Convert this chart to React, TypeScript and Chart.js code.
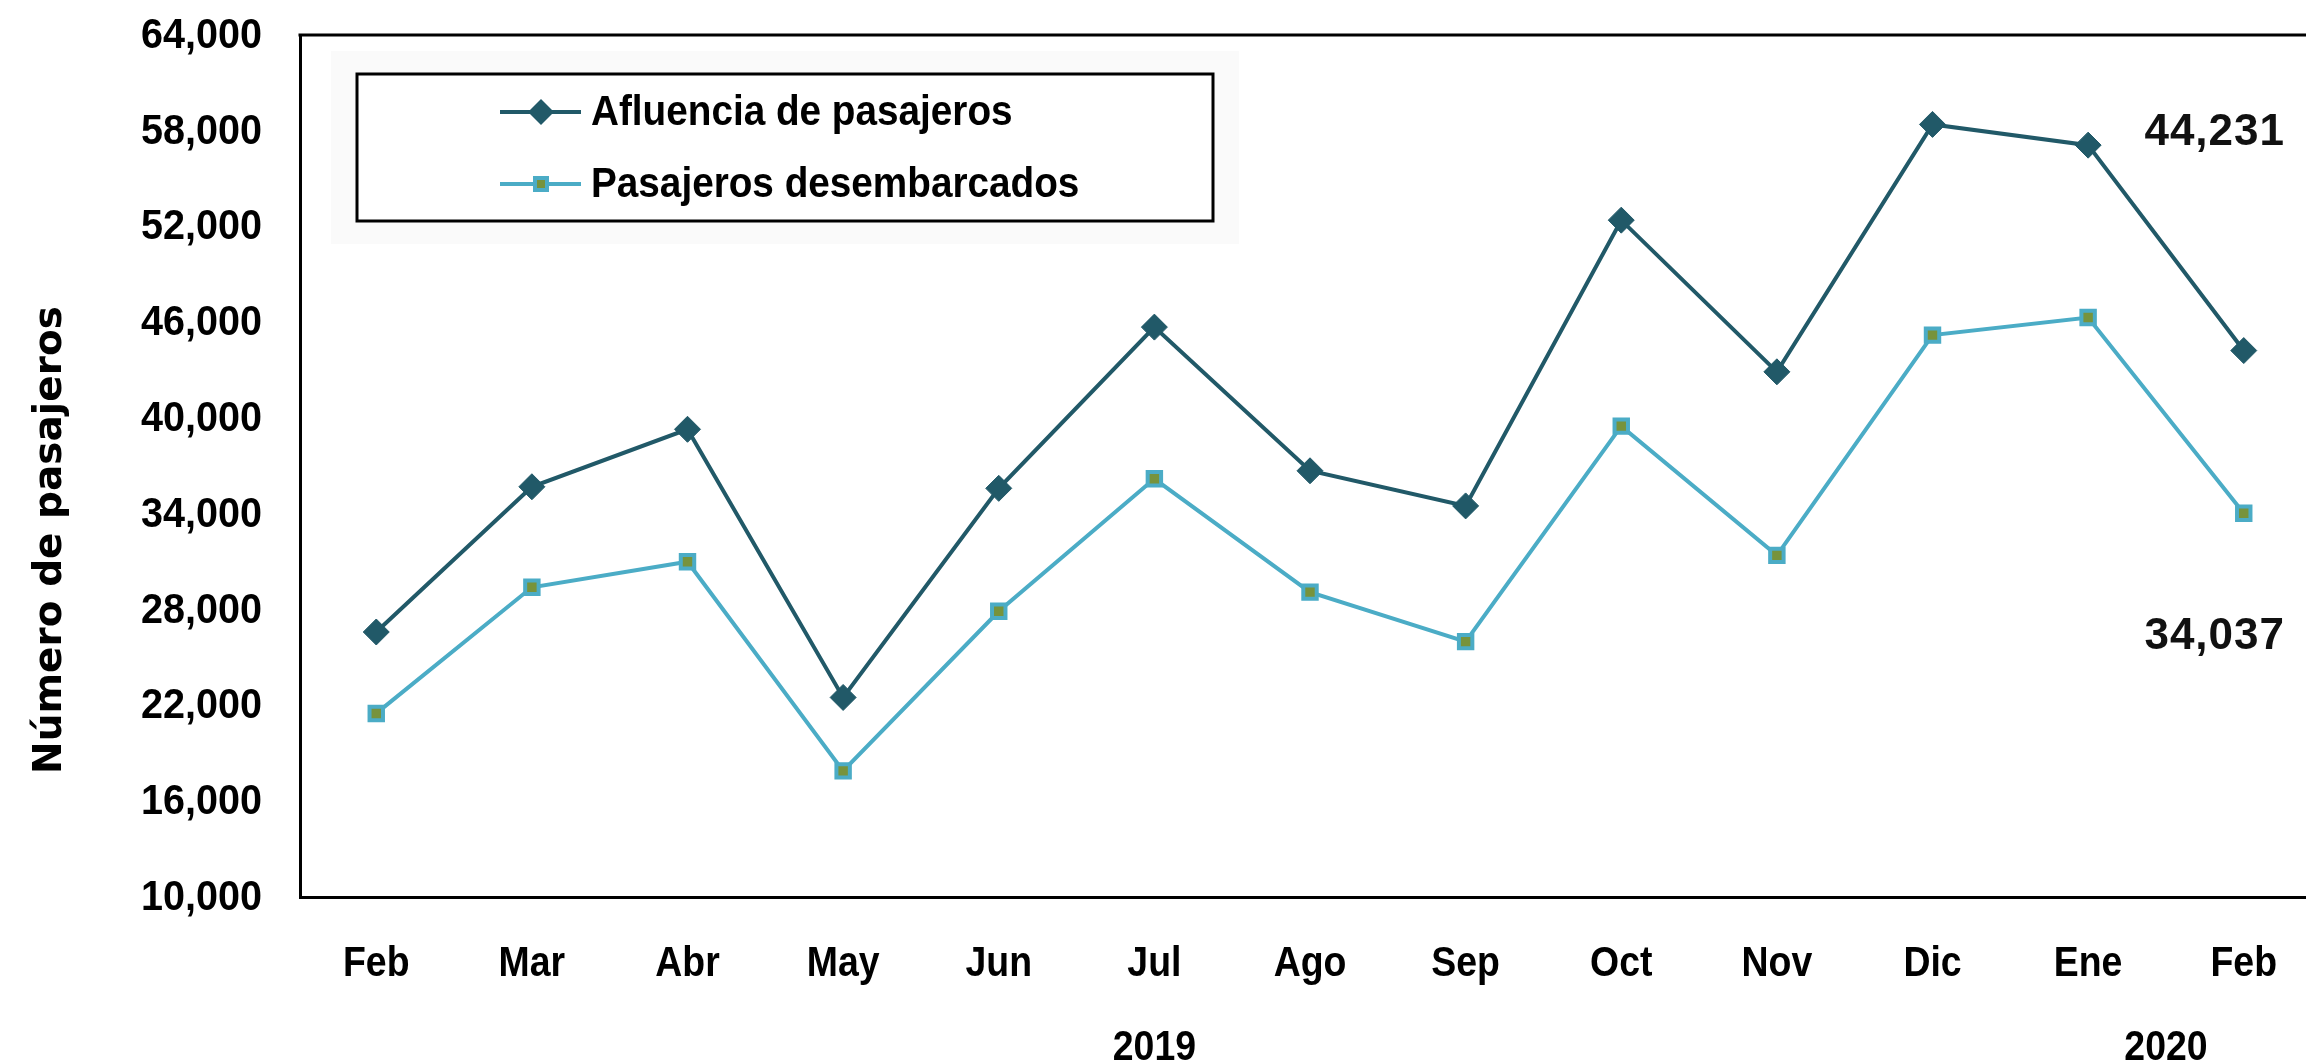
import React, { useEffect, useRef } from 'react';
import { Chart, registerables } from 'chart.js';

Chart.register(...registerables);

// ---------- data ----------
const months = ['Feb', 'Mar', 'Abr', 'May', 'Jun', 'Jul', 'Ago', 'Sep', 'Oct', 'Nov', 'Dic', 'Ene', 'Feb'];
const afluencia = [26600, 35700, 39300, 22500, 35600, 45700, 36700, 34500, 52400, 42900, 58400, 57100, 44231];
const desembarcados = [21500, 29400, 31000, 17900, 27900, 36200, 29100, 26000, 39500, 31400, 45200, 46300, 34037];
const seriesNames = ['Afluencia de pasajeros', 'Pasajeros desembarcados'];
const yearLabels = ['2019', '2020'];
const yearFirstIndex = [0, 11];
const yearLastIndex = [10, 12];
const yMin = 10000;
const yMax = 64000;
const yStep = 6000;
const yTitle = 'Número de pasajeros';

// ---------- style ----------
const W = 2306;
const H = 1063;
const SANS = '"Liberation Sans", Arial, sans-serif';
const WIDE = '"DejaVu Sans", sans-serif';
const DARK = '#215968';
const LIGHT = '#4BACC6';
const OLIVE = '#77933C';

const fmt = (v: number) => v.toLocaleString('en-US');

// condensed-looking text: bold sans squeezed horizontally
function squeezed(
  ctx: CanvasRenderingContext2D,
  text: string,
  x: number,
  y: number,
  align: CanvasTextAlign,
  size: number,
  sx: number,
) {
  ctx.save();
  ctx.translate(x, y);
  ctx.scale(sx, 1);
  ctx.font = `bold ${size}px ${SANS}`;
  ctx.textAlign = align;
  ctx.textBaseline = 'middle';
  ctx.fillStyle = '#000';
  ctx.fillText(text, 0, 0);
  ctx.restore();
}

function drawDiamond(ctx: CanvasRenderingContext2D, x: number, y: number, r: number, color: string) {
  ctx.beginPath();
  ctx.moveTo(x - r, y);
  ctx.lineTo(x, y - r);
  ctx.lineTo(x + r, y);
  ctx.lineTo(x, y + r);
  ctx.closePath();
  ctx.fillStyle = color;
  ctx.fill();
}

function drawSquare(ctx: CanvasRenderingContext2D, x: number, y: number, half: number, fill: string, stroke: string, bw: number) {
  ctx.fillStyle = fill;
  ctx.fillRect(x - half, y - half, half * 2, half * 2);
  ctx.strokeStyle = stroke;
  ctx.lineWidth = bw;
  ctx.strokeRect(x - half, y - half, half * 2, half * 2);
}

const decorPlugin = {
  id: 'decor',
  // let the plot box run to the right edge of the canvas (the original is cropped there)
  afterLayout(chart: any) {
    const xs = chart.scales.x;
    chart.chartArea.right = chart.width;
    chart.chartArea.width = chart.width - chart.chartArea.left;
    xs.right = chart.width;
    xs.width = chart.width - xs.left;
    xs.configure();
  },
  afterDraw(chart: any) {
    const { ctx, chartArea: a, scales } = chart;
    const xs = scales.x;
    const ys = scales.y;
    ctx.save();

    // top border of the plot box
    ctx.strokeStyle = '#000';
    ctx.lineWidth = 3;
    ctx.beginPath();
    ctx.moveTo(a.left - 1.5, a.top);
    ctx.lineTo(chart.width, a.top);
    ctx.stroke();

    // y tick labels
    ys.ticks.forEach((t: any) => {
      squeezed(ctx, fmt(t.value), a.left - 38, ys.getPixelForValue(t.value) + 1, 'right', 43, 0.92);
    });

    // x tick labels
    months.forEach((m, i) => {
      squeezed(ctx, m, xs.getPixelForValue(i), a.bottom + 67, 'center', 43, 0.87);
    });

    // year labels
    yearLabels.forEach((lab, i) => {
      const cx = xs.getPixelForValue((yearFirstIndex[i] + yearLastIndex[i]) / 2);
      squeezed(ctx, lab, cx, a.bottom + 151, 'center', 43, 0.87);
    });

    // y-axis title
    ctx.save();
    ctx.fillStyle = '#000';
    ctx.font = `bold 39px ${WIDE}`;
    ctx.textAlign = 'center';
    ctx.textBaseline = 'middle';
    ctx.translate(51, (a.top + a.bottom) / 2 + 74);
    ctx.rotate(-Math.PI / 2);
    ctx.fillText(yTitle, 0, 0);
    ctx.restore();

    // end value labels
    const last = months.length - 1;
    ctx.save();
    ctx.font = `bold 44px ${SANS}`;
    (ctx as any).letterSpacing = '1px';
    ctx.textAlign = 'right';
    ctx.textBaseline = 'middle';
    ctx.fillStyle = '#111';
    ctx.fillText(fmt(afluencia[last]), a.right - 21, ys.getPixelForValue(afluencia[last]) - 218);
    ctx.fillText(fmt(desembarcados[last]), a.right - 21, ys.getPixelForValue(desembarcados[last]) + 124);
    ctx.restore();

    // legend
    const lx0 = 357, ly0 = 74, lx1 = 1213, ly1 = 221;
    ctx.fillStyle = '#fafafa';
    ctx.fillRect(lx0 - 26, ly0 - 23, lx1 - lx0 + 52, ly1 - ly0 + 46);
    ctx.fillStyle = '#fff';
    ctx.fillRect(lx0, ly0, lx1 - lx0, ly1 - ly0);
    ctx.strokeStyle = '#000';
    ctx.lineWidth = 3;
    ctx.strokeRect(lx0, ly0, lx1 - lx0, ly1 - ly0);

    const rows = [112, 184];
    const colors = [DARK, LIGHT];
    rows.forEach((ry, i) => {
      ctx.strokeStyle = colors[i];
      ctx.lineWidth = 4;
      ctx.beginPath();
      ctx.moveTo(500, ry);
      ctx.lineTo(581, ry);
      ctx.stroke();
      if (i === 0) drawDiamond(ctx, 541, ry, 13, DARK);
      else drawSquare(ctx, 541, ry, 6, OLIVE, LIGHT, 4);
      squeezed(ctx, seriesNames[i], 591, ry + 1, 'left', 43, 0.9);
    });

    ctx.restore();
  },
};

export default function App() {
  const ref = useRef<HTMLCanvasElement | null>(null);

  useEffect(() => {
    if (!ref.current) return;
    const chart = new Chart(ref.current, {
      type: 'line',
      data: {
        datasets: [
          {
            label: seriesNames[0],
            data: afluencia.map((v, i) => ({ x: i, y: v })),
            borderColor: DARK,
            backgroundColor: DARK,
            borderWidth: 4,
            pointStyle: 'rectRot',
            pointRadius: 13,
            pointBackgroundColor: DARK,
            pointBorderColor: DARK,
            pointBorderWidth: 1,
            tension: 0,
          },
          {
            label: seriesNames[1],
            data: desembarcados.map((v, i) => ({ x: i, y: v })),
            borderColor: LIGHT,
            backgroundColor: OLIVE,
            borderWidth: 4,
            pointStyle: 'rect',
            pointRadius: 9.5,
            pointBackgroundColor: OLIVE,
            pointBorderColor: LIGHT,
            pointBorderWidth: 4,
            tension: 0,
          },
        ],
      },
      options: {
        responsive: false,
        devicePixelRatio: 1,
        animation: false,
        layout: { padding: { top: 35, left: 0, right: 0, bottom: 0 } },
        plugins: { legend: { display: false }, tooltip: { enabled: false } },
        scales: {
          x: {
            type: 'linear',
            min: -0.49,
            max: 12.4,
            afterBuildTicks: (s: any) => {
              s.ticks = months.map((_, i) => ({ value: i }));
            },
            afterFit: (s: any) => {
              s.height = 166;
            },
            ticks: { display: false },
            grid: { color: 'rgba(0,0,0,0)', drawTicks: false, drawOnChartArea: false },
            border: { display: true, color: '#000', width: 3 },
          },
          y: {
            type: 'linear',
            min: yMin,
            max: yMax,
            afterFit: (s: any) => {
              s.width = 300;
            },
            ticks: { display: false, stepSize: yStep },
            grid: { color: 'rgba(0,0,0,0)', drawTicks: false, drawOnChartArea: false },
            border: { display: true, color: '#000', width: 3 },
          },
        },
      },
      plugins: [decorPlugin],
    });
    return () => chart.destroy();
  }, []);

  return (
    <div style={{ position: 'fixed', left: 0, top: 0, width: W, height: H, background: '#fff', overflow: 'hidden' }}>
      <canvas ref={ref} width={W} height={H} style={{ display: 'block', width: W, height: H }} />
    </div>
  );
}
